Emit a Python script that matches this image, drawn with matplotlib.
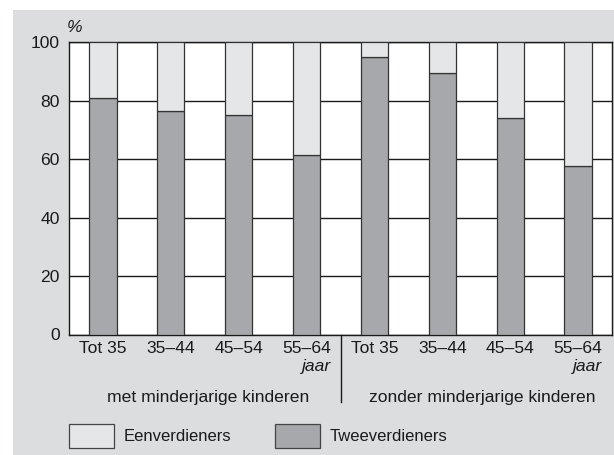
import matplotlib
matplotlib.use("Agg")
import matplotlib.pyplot as plt
from matplotlib.patches import Rectangle
from matplotlib.lines import Line2D
from matplotlib.transforms import blended_transform_factory

# ---- data ----
age_labels = ['Tot 35', '35–44', '45–54', '55–64', 'Tot 35', '35–44', '45–54', '55–64']
group_labels = ['met minderjarige kinderen', 'zonder minderjarige kinderen']
tweeverdieners = [81, 76.5, 75, 61.5, 95, 89.5, 74, 57.5]
eenverdieners = [19, 23.5, 25, 38.5, 5, 10.5, 26, 42.5]
series_names = ['Eenverdieners', 'Tweeverdieners']
y_ticks = [0, 20, 40, 60, 80, 100]

W, H = 614, 455
plt.rcParams['font.family'] = ['Liberation Sans', 'DejaVu Sans']
FS = 12.6
FS_LEG = 12

C_PANEL = '#dcdddf'
C_LIGHT = '#e5e6e8'
C_DARK = '#a7a8ab'
C_EDGE = '#333333'
C_TEXT = '#1a1a1a'


def fx(px):
    return px / W


def fy(py):
    return 1 - py / H


fig = plt.figure(figsize=(W / 100, H / 100), dpi=100)
fig.patch.set_facecolor('white')
fig.patches.append(Rectangle((fx(13), 0), 1 - fx(13), fy(10), transform=fig.transFigure,
                             facecolor=C_PANEL, edgecolor='none', zorder=-5))

ax = fig.add_axes([fx(69), fy(334.5), fx(612) - fx(69), fy(42.3) - fy(334.5)])
ax.set_zorder(1)
ax.set_facecolor('white')
x = list(range(len(age_labels)))
ax.bar(x, tweeverdieners, width=0.4, color=C_DARK, edgecolor=C_EDGE, linewidth=0.9, zorder=3)
ax.bar(x, eenverdieners, width=0.4, bottom=tweeverdieners, color=C_LIGHT,
       edgecolor=C_EDGE, linewidth=0.9, zorder=3)
ax.set_xlim(-0.5, 7.5)
ax.set_ylim(0, 100)
ax.set_yticks(y_ticks)
ax.set_yticklabels([str(v) for v in y_ticks], fontsize=FS, color=C_TEXT)
ax.set_xticks(x)
ax.set_xticklabels(age_labels, fontsize=FS, color=C_TEXT)
ax.tick_params(axis='both', length=0)
ax.tick_params(axis='y', pad=6.5)
ax.tick_params(axis='x', pad=5)
ax.set_axisbelow(True)
ax.yaxis.grid(True, color=C_TEXT, linewidth=1.0)
for s in ax.spines.values():
    s.set_color(C_TEXT)
    s.set_linewidth(1.0)

# percent sign
fig.text(fx(74.5), fy(28), '%', fontsize=FS, style='italic', ha='center', va='center', color=C_TEXT)

# group labels and separator
bt = blended_transform_factory(ax.transData, fig.transFigure)
ax.text(1.55, fy(401.7), group_labels[0], transform=bt, ha='center', va='baseline', fontsize=FS, color=C_TEXT)
ax.text(5.59, fy(401.7), group_labels[1], transform=bt, ha='center', va='baseline', fontsize=FS, color=C_TEXT)
ax.add_artist(Line2D([3.5, 3.5], [fy(334.5), fy(402)], transform=bt, color=C_TEXT,
                     linewidth=1.0, clip_on=False))

# "jaar" under last age label of each group
fig.canvas.draw()
r = fig.canvas.get_renderer()
for lbl in (ax.get_xticklabels()[3], ax.get_xticklabels()[7]):
    bb = lbl.get_window_extent(r)
    fig.text(bb.x1 / W, fy(371.5), 'jaar', fontsize=FS, style='italic', ha='right', va='baseline', color=C_TEXT)

# legend
for (bx, col, name, tx) in [(68.5, C_LIGHT, series_names[0], 123.5), (275, C_DARK, series_names[1], 329.5)]:
    fig.patches.append(Rectangle((fx(bx), fy(448.3)), fx(45), (24 / H), transform=fig.transFigure,
                                 facecolor=col, edgecolor='#444444', linewidth=0.9, zorder=2))
    fig.text(fx(tx), fy(436.5), name, fontsize=FS_LEG, ha='left', va='center', color=C_TEXT)

fig.savefig('out.png', dpi=100)
